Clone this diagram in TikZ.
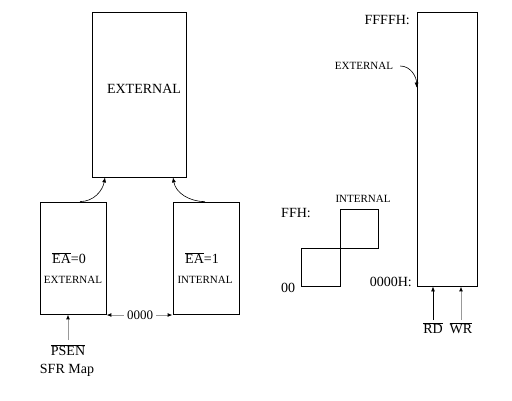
\documentclass[tikz,border=0pt]{standalone}
\usepackage{fontspec}
\setmainfont{Liberation Serif}
\usetikzlibrary{arrows.meta,calc}

\begin{document}
\begin{tikzpicture}[x=1pt,y=-1pt,
  membox/.style={draw, line width=0.8pt, inner sep=0pt},
  bigtext/.style={font=\fontsize{14}{16}\selectfont, inner sep=0pt},
  smalltext/.style={font=\fontsize{11}{13}\selectfont, inner sep=0pt},
  link/.style={line width=0.6pt, -{Latex[length=5pt,width=4pt]}},
  greylink/.style={draw=black!40, line width=1pt, -{Latex[length=5pt,width=4pt,color=black]}}
]
  \useasboundingbox (0,0) rectangle (512,400);
  % program memory
  \node[membox, minimum width=94pt, minimum height=165pt] (extbox) at (139,94.5) {};
  \node[bigtext] (exttxt) at (144,89) {EXTERNAL};
  \node[membox, minimum width=66pt, minimum height=112pt] (ea0box) at (73,258) {};
  \node[membox, minimum width=66pt, minimum height=112pt] (ea1box) at (206,258) {};
  \node[bigtext] (ea0) at (69,258) {\(\overline{\hbox{EA}}\)=0};
  \node[smalltext] (ea0ext) at (73,280) {EXTERNAL};
  \node[bigtext] (ea1) at (202,258) {\(\overline{\hbox{EA}}\)=1};
  \node[smalltext] (ea1int) at (205,280) {INTERNAL};
  \node[bigtext, font=\fontsize{13}{15}\selectfont] (zero) at (140,315) {0000};
  \node[bigtext] (psen) at (68,350) {\(\overline{\hbox{PSEN}}\)};
  \node[bigtext] (sfr) at (67,370) {SFR Map};

  \draw[link] ([xshift=7pt]ea0box.north) to[out=0,in=-100] ([xshift=-34pt]extbox.south);
  \draw[link] ([xshift=-1pt]ea1box.north) to[out=180,in=-80] ([xshift=34pt]extbox.south);
  \draw[greylink] ([xshift=-3pt]zero.west) -- (zero.west -| ea0box.east);
  \draw[greylink] ([xshift=3pt]zero.east) -- (zero.east -| ea1box.west);
  \draw[greylink] ([yshift=4pt]psen.north) -- (psen.north |- ea0box.south);

  % data memory
  \node[membox, minimum width=60pt, minimum height=274pt] (ram) at (447,149) {};
  \node[bigtext, anchor=east] (ffffh) at (410,20) {FFFFH:};
  \node[bigtext, anchor=east] (h0000) at (412,282) {0000H:};
  \node[smalltext] (ext2) at (364,66) {EXTERNAL};
  \draw[link] ([xshift=7pt]ext2.east) to[out=0,in=90] ([yshift=-76pt]ram.north west);
  \node[bigtext] (rd) at (433,328) {\(\overline{\hbox{RD}}\)};
  \node[bigtext] (wr) at (461,328) {\(\overline{\hbox{WR}}\)};
  \draw[link, line width=0.8pt] ([yshift=2pt]rd.north) -- (rd.north |- ram.south);
  \draw[greylink] ([yshift=2pt]wr.north) -- (wr.north |- ram.south);

  % internal ram
  \draw[line width=0.8pt] (301,248) rectangle (340,286);
  \draw[line width=0.8pt] (340,209) rectangle (378,248);
  \node[bigtext] (ffh) at (296,213) {FFH:};
  \node[bigtext] (ram00) at (288,288) {00};
  \node[smalltext] (int2) at (363,199) {INTERNAL};
\end{tikzpicture}
\end{document}
